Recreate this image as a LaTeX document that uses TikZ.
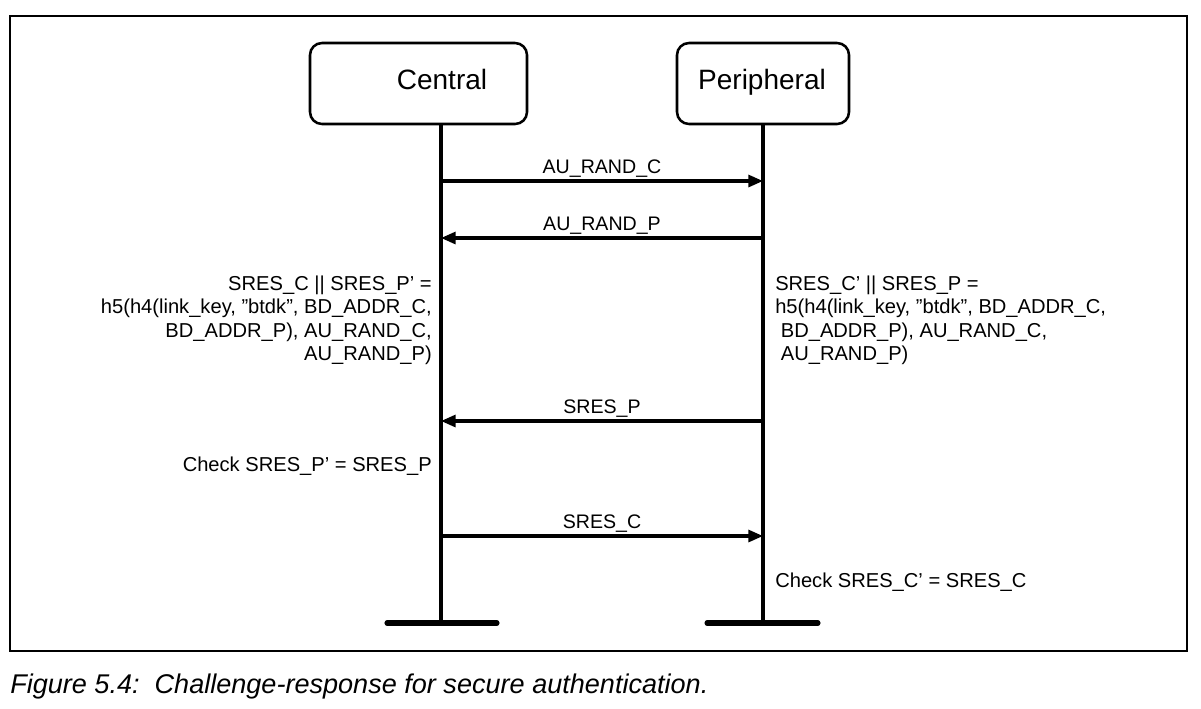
\documentclass[tikz,border=0pt]{standalone}
\usepackage{fontspec}
\setmainfont{Liberation Sans}
\usetikzlibrary{arrows.meta}
\begin{document}
\begin{tikzpicture}[x=0.75pt,y=-0.75pt,
  actor/.style={draw,line width=1.9pt,rounded corners=9pt,minimum height=60.75pt,inner sep=0pt},
  actortext/.style={font=\fontsize{21}{24}\selectfont,inner sep=0pt,text height=15pt,text depth=4.5pt},
  life/.style={line width=2.3pt},
  bar/.style={line width=3.8pt,line cap=round},
  msg/.style={line width=2.3pt,-{Triangle[length=11pt,width=9pt]}},
  lbl/.style={font=\fontsize{14.7}{17.3}\selectfont,inner sep=0pt},
  note/.style={font=\fontsize{15.1}{17.3}\selectfont,inner sep=0pt}
]
\useasboundingbox (0,0) rectangle (1201,708);
\draw[line width=1.1pt] (10,16) rectangle (1187,651);

\node[actor,minimum width=162.75pt] (C) at (418.5,83.5) {};
\node[actor,minimum width=129pt] (P) at (763,83.5) {};
\node[actortext] (Ct) at (442,82) {Central};
\node[actortext] (Pt) at (762,82) {Peripheral};

\coordinate (Cend) at (441,623);
\coordinate (Pend) at (763,623);
\coordinate (Cl) at (387,623);
\coordinate (Cr) at (497,623);
\coordinate (Pl) at (707,623);
\coordinate (Pr) at (818,623);

\draw[life] (C.south -| Cend) -- (Cend);
\draw[life] (P.south) -- (Pend);
\draw[bar] (Cl) -- (Cr);
\draw[bar] (Pl) -- (Pr);

\coordinate (c1) at (441,181); \coordinate (p1) at (763,181);
\coordinate (c2) at (441,238); \coordinate (p2) at (763,238);
\coordinate (c3) at (441,421); \coordinate (p3) at (763,421);
\coordinate (c4) at (441,536); \coordinate (p4) at (763,536);

\draw[msg] (c1) -- (p1) node[lbl,midway,above=1.2pt] (m1) {AU\_RAND\_C};
\draw[msg] (p2) -- (c2) node[lbl,midway,above=1.2pt] (m2) {AU\_RAND\_P};
\draw[msg] (p3) -- (c3) node[lbl,midway,above=1.2pt] (m3) {SRES\_P};
\draw[msg] (c4) -- (p4) node[lbl,midway,above=1.2pt] (m4) {SRES\_C};

\node[note,align=right,anchor=north east] (nl) at (432,276) {SRES\_C || SRES\_P’ =\\h5(h4(link\_key, ”btdk”, BD\_ADDR\_C,\\BD\_ADDR\_P), AU\_RAND\_C,\\AU\_RAND\_P)};
\node[note,align=left,anchor=north west] (nr) at (775,276) {SRES\_C’ || SRES\_P =\\h5(h4(link\_key, ”btdk”, BD\_ADDR\_C,\\\ BD\_ADDR\_P), AU\_RAND\_C,\\\ AU\_RAND\_P)};
\node[note,anchor=east] (chkP) at (432,466) {Check SRES\_P’ = SRES\_P};
\node[note,anchor=west] (chkC) at (775,582) {Check SRES\_C’ = SRES\_C};

\node[font=\fontsize{20.3}{24}\itshape\selectfont,anchor=west,inner sep=0pt] (cap) at (10,686) {Figure 5.4:\ \ Challenge-response for secure authentication.};
\end{tikzpicture}
\end{document}
